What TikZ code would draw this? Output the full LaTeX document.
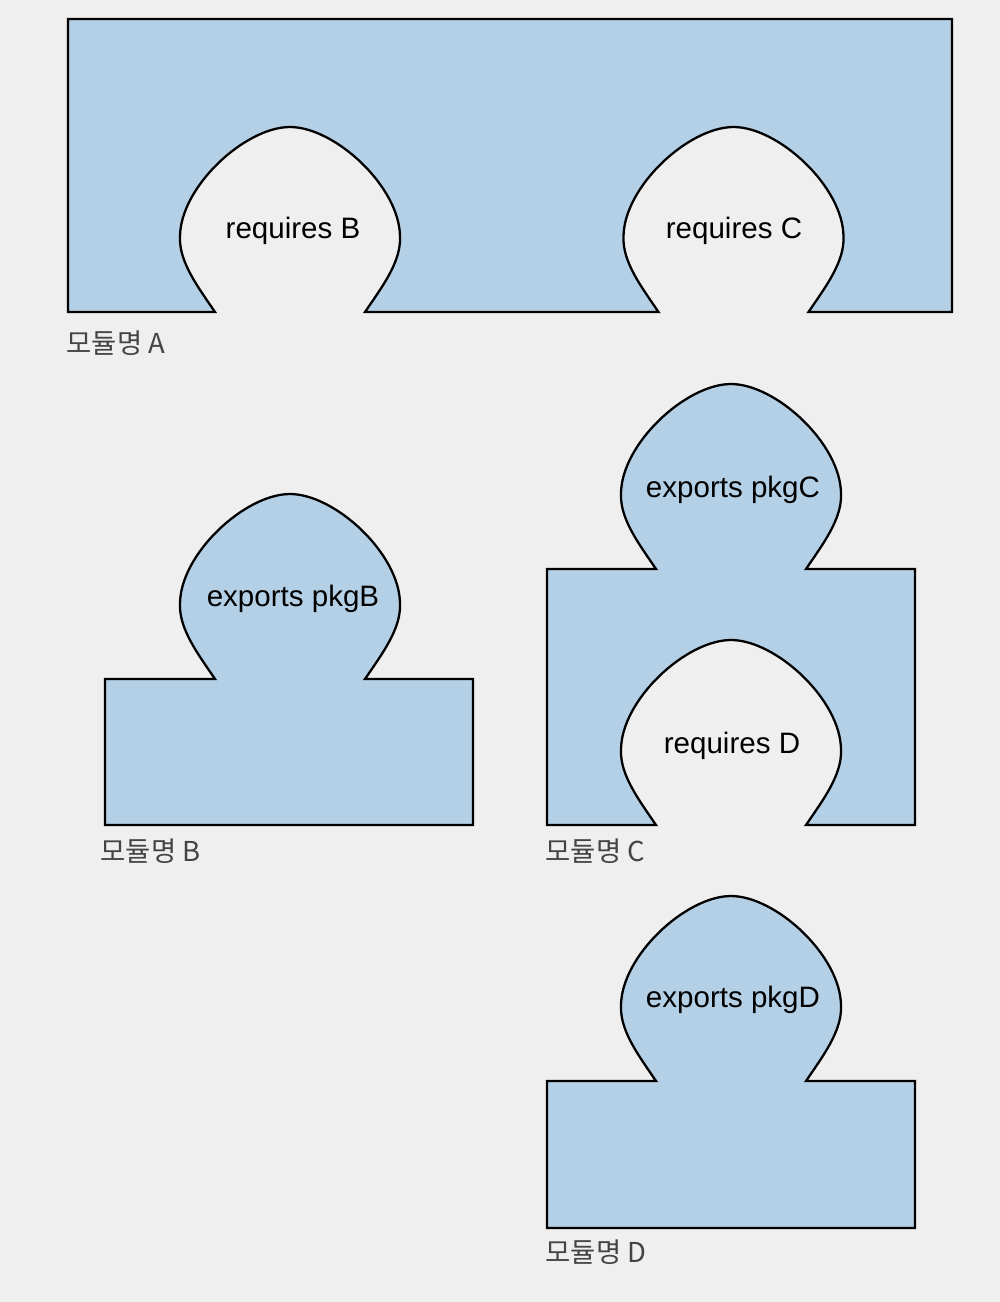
\documentclass[tikz,border=0pt]{standalone}
\usepackage{fontspec}
\setmainfont{Liberation Sans}
\newfontfamily\krfont{Noto Sans CJK KR}
\usetikzlibrary{positioning}
\definecolor{bgcol}{HTML}{EFEFEF}
\definecolor{modfill}{HTML}{B4D0E6}
\definecolor{namecol}{HTML}{444444}
\tikzset{
    module/.style = {draw=black, fill=modfill, line width=0.65pt, line join=miter},
    tag/.style = {font=\fontsize{8.4}{10}\selectfont, inner sep=0pt, anchor=base},
    modname/.style = {font=\krfont\fontsize{7.8}{9}\selectfont, text=namecol, inner sep=0pt, anchor=base west},
    bulb/.style args = {#1/#2/#3}{insert path={
        .. controls ({#1-(#3)*92},{#2-25}) and ({#1-(#3)*111},{#2-50}) .. ({#1-(#3)*110},{#2-75})
        .. controls ({#1-(#3)*110},{#2-125}) and ({#1-(#3)*45},{#2-185}) .. (#1,{#2-185})
        .. controls ({#1+(#3)*45},{#2-185}) and ({#1+(#3)*110},{#2-125}) .. ({#1+(#3)*110},{#2-75})
        .. controls ({#1+(#3)*111},{#2-50}) and ({#1+(#3)*92},{#2-25}) .. ({#1+(#3)*75},#2)}}
}

\begin{document}
\begin{tikzpicture}[x=0.01cm, y=-0.01cm]
    \fill[bgcol] (0,0) rectangle (1000,1302);
    \useasboundingbox (0,0) rectangle (1000,1302);

    % module A, two holes
    \draw[module] (68,19) -- (952,19) -- (952,312) -- (808.5,312) [bulb=733.5/312/-1]
        -- (365,312) [bulb=290/312/-1] -- (68,312) -- cycle;
    % module B
    \draw[module] (105,825) -- (105,679) -- (215,679) [bulb=290/679/1]
        -- (473,679) -- (473,825) -- cycle;
    % module C
    \draw[module] (547,825) -- (547,569) -- (656,569) [bulb=731/569/1]
        -- (915,569) -- (915,825) -- (806,825) [bulb=731/825/-1] -- cycle;
    % module D
    \draw[module] (547,1228) -- (547,1081) -- (656,1081) [bulb=731/1081/1]
        -- (915,1081) -- (915,1228) -- cycle;

    \node[tag] (reqB) at (293,238) {requires B};
    \node[tag] (reqC) at (734,238) {requires C};
    \node[tag] (expB) at (293,606) {exports pkgB};
    \node[tag] (expC) at (733,497) {exports pkgC};
    \node[tag] (reqD) at (732,753) {requires D};
    \node[tag] (expD) at (733,1007) {exports pkgD};

    \node[modname] (nameA) at (66,353) {모듈명 A};
    \node[modname] (nameB) at (100,861) {모듈명 B};
    \node[modname] (nameC) at (545,861) {모듈명 C};
    \node[modname] (nameD) at (545,1262) {모듈명 D};
\end{tikzpicture}
\end{document}
